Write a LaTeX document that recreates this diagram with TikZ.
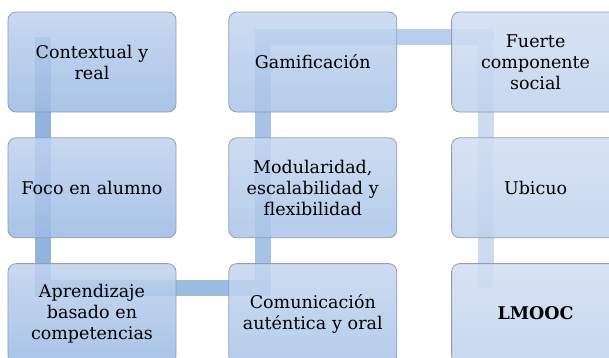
\documentclass[tikz,border=0pt]{standalone}
\usepackage{fontspec}
\setmainfont{DejaVu Serif}
\usetikzlibrary{positioning}
\usetikzlibrary{backgrounds}
\definecolor{edgeline}{RGB}{145,158,178}
\definecolor{topA}{RGB}{192,211,238}
\definecolor{botA}{RGB}{156,187,228}
\definecolor{topB}{RGB}{198,215,239}
\definecolor{botB}{RGB}{170,197,232}
\definecolor{topC}{RGB}{210,223,242}
\definecolor{botC}{RGB}{192,210,237}
\definecolor{bandA}{RGB}{146,179,223}
\definecolor{bandB}{RGB}{156,187,227}
\definecolor{bandC}{RGB}{166,195,231}
\definecolor{bandD}{RGB}{184,206,236}
\definecolor{bandE}{RGB}{205,219,240}
\tikzset{
c/.style={
  rectangle,
  rounded corners=8pt,
  minimum width=168pt,
  minimum height=100pt,
  text width=160pt,
  align=center,
  draw=edgeline,
  line width=0.8pt,
  fill opacity=0.87,
  text opacity=1,
  font=\fontsize{17.5pt}{21pt}\selectfont
  },
band/.style={line width=16pt}
}

\begin{document}
\begin{tikzpicture}[node distance=25pt]
    \useasboundingbox (0,0) rectangle (609pt,-357pt);
    \clip (0,0) rectangle (609pt,-357pt);
    \node[c,top color=topA,bottom color=botA] (i) at (92pt,-62pt) {Contextual y\\real};
    \node[c,top color=topA,bottom color=botA] (ii)  [below=of i] {Foco en alumno};
    \node[c,top color=topA,bottom color=botA] (iii) [below=of ii] {Aprendizaje\\basado en\\competencias};
    \node[c,top color=topB,bottom color=botB] (iv)  [right=52pt of iii] {Comunicación\\auténtica y oral};
    \node[c,top color=topB,bottom color=botB] (v)   [above=of iv] {Modularidad,\\escalabilidad y\\flexibilidad};
    \node[c,top color=topB,bottom color=botB] (vi)  [above=of v] {Gamificación};
    \node[c,top color=topC,bottom color=botC] (vii) [right=54pt of vi] {Fuerte\\componente\\social};
    \node[c,top color=topC,bottom color=botC] (viii)[below=of vii] {Ubicuo};
    \node[c,top color=topC,bottom color=botC] (ix)  [below=of viii] {\textbf{LMOOC}};
    % turning points of the band
    \coordinate (p1) at ([shift={(35pt,-25pt)}]i.north west);
    \coordinate (p2) at ([shift={(35pt,-25pt)}]iii.north west);
    \coordinate (p3) at ([shift={(35pt,-25pt)}]iv.north west);
    \coordinate (p4) at ([shift={(35pt,-25pt)}]vi.north west);
    \coordinate (p5) at ([shift={(35pt,-25pt)}]vii.north west);
    \coordinate (p6) at ([shift={(35pt,-25pt)}]ix.north west);
    \begin{pgfonlayer}{background}
    \draw[band,draw=bandA] (p1) -- (p2);
    \draw[band,draw=bandB,line cap=rect] (p2) -- (p3);
    \draw[band,draw=bandC,line cap=rect] (p3) -- (p4);
    \draw[band,draw=bandD,line cap=rect] (p4) -- (p5);
    \draw[band,draw=bandE] (p5) -- (p6);
    \end{pgfonlayer}
\end{tikzpicture}
\end{document}
